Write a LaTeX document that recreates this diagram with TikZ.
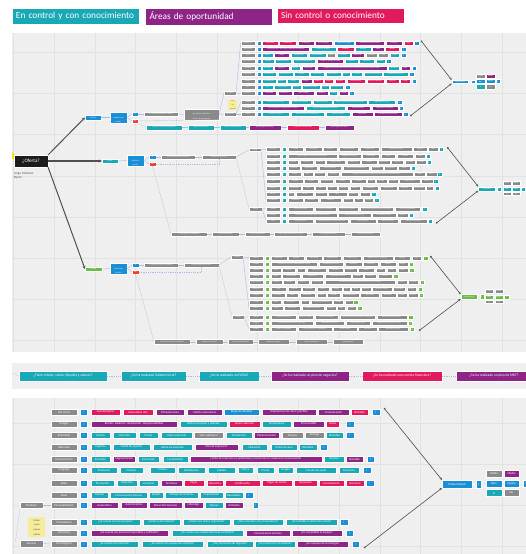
\documentclass[tikz,border=0pt]{standalone}
\usepackage{fontspec}
\usepackage{graphicx}
\setmainfont{Carlito}
\usetikzlibrary{arrows.meta}
\definecolor{tl}{HTML}{19A8B6}
\definecolor{pu}{HTML}{8E2586}
\definecolor{pk}{HTML}{E1195E}
\definecolor{bl}{HTML}{1B8FD6}
\definecolor{gr}{HTML}{8A8A8A}
\definecolor{gn}{HTML}{6CBD45}
\definecolor{rd}{HTML}{E8452C}
\definecolor{blk}{HTML}{1C1C1C}
\definecolor{panel}{HTML}{EFEFEF}
\definecolor{gridc}{HTML}{E2E2E2}
\definecolor{lav}{HTML}{B4B8E4}
\definecolor{dk}{HTML}{505050}
\definecolor{yl}{HTML}{F5EC9C}
\newcounter{nn}
\newsavebox\tbox
\newdimen\tdim
\newcommand\fitt[2]{\sbox\tbox{#2}\tdim=#1pt\advance\tdim by -0.5pt\ifdim\wd\tbox>\tdim\resizebox{\tdim}{!}{\usebox\tbox}\else\usebox\tbox\fi}
\newcommand\ii{{\fontsize{3.3}{3.3}\selectfont i}}
\def\bxfont{\fontsize{1.8}{2.1}\selectfont}
\def\rowh{4}
\tikzset{
  bx/.style={inner sep=0pt,outer sep=0pt,draw=white,line width=0.25pt,text=white,font=\bxfont,anchor=north west},
  lk/.style={draw=lav,line width=0.4pt},
  lkd/.style={draw=lav,line width=0.45pt,dash pattern=on 1pt off 0.8pt},
  hubl/.style={draw=dk,line width=0.6pt,{Circle[length=1.8pt]}-{Stealth[length=2.6pt,width=2.2pt]}},
  mainl/.style={draw=dk,line width=1pt,-{Stealth[length=3.2pt,width=3pt]}},
  legbox/.style={anchor=north west,inner sep=4pt,outer sep=0pt,draw=white,line width=0.5pt,text=white,font=\fontsize{9.3}{10}\selectfont,minimum height=15pt,text width=119pt,align=left},
}
\newcommand\Bx[6]{\stepcounter{nn}\pgfmathsetmacro\bw{#3-#1}\node[bx,fill=#5,minimum width={(#3-#1)*1pt},minimum height={(#4-#2)*1pt}] (n\arabic{nn}) at (#1,#2) {\fitt{\bw}{#6}};}
\newcommand\NBx[7]{\pgfmathsetmacro\bw{#3-#1}\node[bx,fill=#5,minimum width={(#3-#1)*1pt},minimum height={(#4-#2)*1pt}] (#7) at (#1,#2) {\fitt{\bw}{#6}};}
\newcommand\Zrow[4]{\foreach \a/\b/\c/\tx in {#4}{%
  \pgfmathsetmacro\xa{#1+\a/3}\pgfmathsetmacro\xb{#1+\b/3}%
  \pgfmathsetmacro\ya{#2+#3/3-\rowh/2}\pgfmathsetmacro\yb{\ya+\rowh}%
  \Bx{\xa}{\ya}{\xb}{\yb}{\c}{\tx}}}
\newcommand\Prow[2]{\foreach \a/\b/\c/\tx in {#2}{%
  \pgfmathsetmacro\yb{#1+6}\Bx{\a}{#1}{\b}{\yb}{\c}{\tx}}}
\begin{document}
\begin{tikzpicture}[x=1pt,y=-1pt]
\useasboundingbox (0,0) rectangle (526,554);
\fill[white] (0,0) rectangle (526,554);
% panels
\fill[panel] (12,33) rectangle (526,352);
\fill[panel] (12,363) rectangle (526,389);
\fill[panel] (12,398) rectangle (526,554);
\begin{scope}
\clip (12,33) rectangle (526,352) (12,398) rectangle (526,554);
\foreach \gx in {0,...,12} {\draw[gridc,line width=0.5pt] ({13.5+40.7*\gx},33) -- ({13.5+40.7*\gx},554);}
\foreach \gy in {1,...,13} {\draw[gridc,line width=0.5pt] (12,{11+41.2*\gy}) -- (526,{11+41.2*\gy});}
\end{scope}
% legend
\node[legbox,fill=tl] (lg1) at (12,8) {En control y con conocimiento};
\node[legbox,fill=pu] (lg2) at (145.5,8) {Áreas de oportunidad};
\node[legbox,fill=pk] (lg3) at (277,8) {Sin control o conocimiento};
% root
\fill[yellow!80!orange] (12,153) rectangle (13.5,158.5);
\NBx{14}{155}{48}{167}{blk}{\fontsize{5}{6}\selectfont ¿Oferta?}{of}
\node[anchor=north west,inner sep=0pt,text=dk,align=left,font=\fontsize{3.2}{4}\selectfont] (autor) at (14,172) {Jorge Martínez\\Byrne};
% ---------- top branch
\NBx{85}{115}{101}{120}{bl}{Producto}{prod}
\NBx{110}{112}{127}{123}{bl}{\shortstack{¿Conoces el\\producto que\\vendes?}}{q1}
\NBx{132}{112}{138}{116}{bl}{Sí}{si1}
\NBx{132}{119}{138}{123}{rd}{No}{no1}
\NBx{144}{112}{178}{116}{gr}{Sí, conozco mi producto a detalle}{g11}
\NBx{184}{109}{219}{118}{gr}{\shortstack{Conozco plenamente mi producto\\sus ventajas y beneficios\\frente a la competencia}}{g12}
\NBx{224}{91}{236}{95}{gr}{Atributos}{gl1}
\NBx{224}{112}{236}{116}{gr}{Beneficios}{gl2}
\node[anchor=north west,fill=yl,inner sep=0pt,minimum width=9pt,minimum height=10pt,text=dk,font=\fontsize{1.6}{1.9}\selectfont] (st1) at (228,100) {\shortstack{Nota\\del\\producto}};
\NBx{146}{125}{182}{130}{tl}{¿Cuál es el valor de tu producto?}{t1}
\NBx{188}{125}{214}{130}{tl}{¿Quién es tu cliente?}{t2}
\NBx{220}{125}{246}{130}{tl}{¿Qué necesidad cubre?}{t3}
\NBx{249}{125}{281}{130}{pu}{¿Cómo llega a tu cliente?}{t4}
\NBx{287}{125}{319}{130}{pk}{¿Cuál es su ciclo de vida?}{t5}
\NBx{325}{125}{354}{130}{pu}{¿Tiene registro de marca?}{t6}
\Zrow{230}{30}{38}{32/75/gr/Aceptación,80/92/bl/\ii,97/143/pk/Aceptación,148/198/pk/Calidad baja,203/252/pu/Durabilidad,256/307/pu/Diseño propio,313/373/bl/Material reciclado,376/463/pu/Variedad de presentaciones,467/517/pu/Empaque,521/548/pk/Costo,552/567/bl/\ii}
\Zrow{230}{30}{57}{32/75/gr/Necesidad,80/92/bl/\ii,97/238/pu/Necesidad real o necesidad creada por el mercado,242/317/tl/Beneficio tangible,322/372/pk/Sustituto,376/422/tl/Utilidad,426/462/pu/Moda,466/508/pk/Riesgo,512/527/bl/\ii}
\Zrow{230}{30}{75}{32/75/gr/Precio,80/92/bl/\ii,97/128/tl/Precio,133/177/pu/Margen,182/231/tl/Competencia,236/288/tl/Infraestructura,292/315/gr/Zona,320/360/tl/Ubicación,363/402/pu/Temporada,408/440/gr/Volumen,445/475/gr/Stock,480/508/tl/Oferta,512/527/bl/\ii}
\Zrow{230}{30}{94}{32/75/gr/Distribución,80/92/bl/\ii,97/132/tl/Logística,135/183/tl/Almacenamiento,188/255/tl/Canales de distribución,260/340/pu/Tiempo de entrega al cliente,345/383/tl/Transporte,388/433/tl/Inventario,437/465/tl/Pedidos,468/482/bl/\ii}
\Zrow{230}{30}{113}{32/75/gr/Mercado,80/92/bl/\ii,97/128/tl/Mercado,133/177/pu/Segmento,182/210/tl/Nicho,215/255/pu/Tendencias,260/470/pu/Estudio de mercado para conocer gustos y preferencias del consumidor final,475/508/tl/Demanda,512/540/pu/Perfil,545/558/bl/\ii}
\Zrow{230}{30}{132}{32/75/gr/Producción,80/92/bl/\ii,97/138/tl/Proveedores,143/188/tl/Materia prima,193/237/tl/Insumos,241/283/tl/Maquinaria,287/332/tl/Herramientas,336/360/tl/Equipo,364/397/tl/Personal,401/455/tl/Procesos de calidad,460/533/tl/Control de producción,538/552/bl/\ii}
\Zrow{230}{30}{153}{32/75/gr/Imagen,80/92/bl/\ii,97/138/tl/Presentación,140/168/tl/Etiqueta,172/207/tl/Envase,212/245/pu/Imagen,249/280/pk/Registro,283/310/pk/Patente,314/346/pk/Normas,350/405/pk/Certificaciones,410/462/pk/Permisos sanitarios,467/507/pk/Licencias,511/540/pk/Código,545/558/bl/\ii}
\Zrow{230}{30}{171}{32/75/gr/Uso,80/92/bl/\ii,97/128/tl/Uso,133/183/tl/Instrucciones,187/212/tl/Manual,216/270/tl/Atención al cliente,274/296/tl/Soporte,299/340/tl/Devoluciones,345/360/bl/\ii}
\Zrow{230}{30}{190}{32/75/gr/Promoción,80/92/bl/\ii,97/138/pu/Publicidad,143/185/pu/Promoción,190/253/pu/Redes sociales,258/293/pu/Campañas,297/322/tl/Ventas,327/355/pu/Eventos,358/372/bl/\ii}
\Zrow{230}{30}{216}{32/75/gr/Garantía,80/92/bl/\ii,97/177/tl/Garantía de satisfacción,182/243/tl/Cambio de producto,248/305/tl/Reembolso total,310/410/tl/Póliza de garantía por tiempo limitado,415/495/tl/Reparación sin costo,500/515/bl/\ii}
\Zrow{230}{30}{234}{32/75/gr/Posventa,80/92/bl/\ii,97/222/pu/Servicio posventa y seguimiento al cliente,227/345/tl/Atención personalizada en tienda,350/420/pu/Asesoría técnica,425/503/pu/Capacitación al usuario,508/518/bl/\ii}
\Zrow{230}{30}{252}{32/75/gr/Venta,80/92/bl/\ii,97/177/tl/Entrega a domicilio,182/283/tl/Venta en línea y en tienda física,288/360/tl/Puntos de venta,365/428/pu/Mayoristas,432/515/pu/Distribuidores autorizados,520/533/bl/\ii}
\coordinate (tr1) at (240.7,42.7);
\coordinate (tr9) at (240.7,93.3);
\coordinate (tr10) at (240.7,102);
\coordinate (tr12) at (240.7,114);
\NBx{451.7}{80}{468.3}{83.5}{bl}{Producto ideal}{hub1}
\NBx{471}{80}{475}{83.5}{bl}{\ii}{hub1i}
\NBx{476}{74}{485.3}{78.3}{gr}{Medio}{h1a}
\NBx{486}{74}{495}{78.3}{pu}{Medio}{h1b}
\NBx{476}{79.3}{485.3}{83.5}{bl}{Bien}{h1c}
\NBx{486}{79.3}{495}{83.5}{bl}{Alguno}{h1d}
\NBx{496}{79.3}{500}{83.5}{bl}{\ii}{h1i}
\NBx{476}{84.5}{485.3}{88.7}{tl}{Sí}{h1e}
\NBx{486}{84.5}{495}{88.7}{gr}{No}{h1f}
\coordinate (ta) at (421,40.7);
\coordinate (tb) at (410.3,116);
\draw[hubl] (ta) -- (hub1.north west);
\draw[hubl] (tb) -- (hub1.south west);
\draw[lk] (prod.east) -- (q1.west);
\draw[lk] (q1.east) -- (si1.west);
\draw[lk] (q1.east) -- (no1.west);
\draw[lk] (si1.east) -- (g11.west);
\draw[lk] (g11.east) -- (g12.west);
\draw[lk] (g12.east) -- (gl1.west);
\draw[lk] (g12.east) -- (gl2.west);
\draw[lk] (gl1.east) -- (tr1);
\draw[lk] (gl1.east) -- (tr9);
\draw[lk] (gl2.east) -- (tr10);
\draw[lk] (gl2.east) -- (tr12);
\draw[lkd] (no1.east) -- (g12.south east);
\draw[lkd] (no1.south east) -- (t1.west);
\draw[lk] (t1) -- (t2); \draw[lk] (t2) -- (t3); \draw[lk] (t3) -- (t4); \draw[lk] (t4) -- (t5); \draw[lk] (t5) -- (t6);
% ---------- middle branch
\NBx{102}{159}{118}{163}{tl}{Precio}{prc}
\NBx{127}{155}{144}{166}{bl}{\shortstack{¿Cómo\\defines tu\\precio?}}{q2}
\NBx{149}{155}{156}{159}{bl}{Sí}{si2}
\NBx{149}{162}{156}{166}{rd}{No}{no2}
\NBx{161}{155}{195}{159}{gr}{Lo calculo en base a mis costos}{g21}
\NBx{202}{155}{236}{159}{gr}{Estructura del precio}{g22}
\NBx{249}{148}{261}{151.5}{gr}{Costos}{gm1}
\NBx{249}{207}{262}{211}{gr}{Formas}{gm2}
\NBx{171}{232}{207}{236}{gr}{Lo fijo según la competencia}{m1}
\NBx{212}{232}{239}{236}{gr}{Lo fijo por intuición}{m2}
\NBx{245}{232}{270}{236}{gr}{Lo fijo por costumbre}{m3}
\NBx{274}{232}{307}{236}{gr}{Lo fijo según lo que pide el cliente}{m4}
\NBx{312}{232}{345}{236}{gr}{Lo fijo según el mercado}{m5}
\NBx{351}{232}{380}{236}{gr}{No tengo un método}{m6}
\Zrow{230}{130}{58}{108/150/gr/Costo fijo,155/168/tl/\ii,175/220/gr/Renta,225/275/gr/Luz y agua,278/322/gr/Internet,327/385/gr/Mantenimiento,390/447/gr/Sueldos base,452/545/gr/Prestaciones de ley,550/590/gr/Seguros,595/625/gr/Otros,628/640/tl/\ii}
\Zrow{230}{130}{77}{108/150/gr/Costo variable,155/168/tl/\ii,175/320/gr/Materia prima e insumos de producción,325/392/gr/Empaque y embalaje,397/448/gr/Comisiones,452/495/gr/Fletes,500/550/gr/Mermas,555/585/gr/Otros,588/600/tl/\ii}
\Zrow{230}{130}{96}{108/150/gr/Margen,155/168/tl/\ii,175/205/gr/Mínimo,210/250/gr/Promedio,255/285/gr/Máximo,288/345/gr/Margen bruto,350/390/gr/Margen neto,393/440/gr/Utilidad,445/480/gr/Descuento,484/520/gr/Mayoreo,524/555/gr/Menudeo,559/588/gr/Oferta,591/603/tl/\ii}
\Zrow{230}{130}{114}{108/150/gr/Mercado,155/168/tl/\ii,175/210/gr/Mercado,214/262/gr/Competencia,268/333/gr/Precio promedio,338/418/gr/Precio de la competencia,422/458/gr/Demanda,462/500/gr/Temporada,505/540/gr/Zona,543/555/tl/\ii}
\Zrow{230}{130}{133}{108/150/gr/Cliente,155/168/tl/\ii,175/213/gr/Cliente,218/248/gr/Valor,251/285/gr/Percepción,290/328/gr/Capacidad,332/548/gr/Disposición del cliente a pagar por el producto o servicio ofrecido,552/585/gr/Calidad,588/620/gr/Marca,622/635/tl/\ii}
\Zrow{230}{130}{153}{108/150/gr/Cobro,155/168/tl/\ii,175/218/gr/Efectivo,222/265/gr/Tarjeta,270/310/gr/Transferencia,315/360/gr/Crédito,364/408/gr/Contado,412/435/gr/Vales,439/470/gr/Cheque,474/503/gr/Depósito,507/570/gr/Pago en línea,574/608/gr/Plazos,610/625/tl/\ii}
\Zrow{230}{130}{173}{108/150/gr/Impuestos,155/168/tl/\ii,175/212/gr/Impuestos,215/252/gr/IVA,255/287/gr/ISR,291/320/gr/IEPS,325/355/gr/Facturas,360/390/gr/Recibos,395/445/gr/Contabilidad,450/500/gr/Declaraciones,504/545/gr/Auditoría,550/585/gr/Retenciones,588/610/gr/SAT,614/627/tl/\ii}
\Zrow{230}{130}{191}{108/150/gr/Periodo,155/168/tl/\ii,175/193/gr/Día,198/250/gr/Semana,255/290/gr/Quincena,293/350/gr/Mes,354/385/gr/Bimestre,390/420/gr/Año,423/437/tl/\ii}
\Zrow{230}{130}{210}{108/150/gr/Promoción,155/168/tl/\ii,175/218/gr/Promoción,223/265/gr/Descuento,270/333/gr/Paquetes,338/368/gr/Cupones,372/398/gr/2x1,402/430/gr/Regalo,433/447/tl/\ii}
\Zrow{230}{130}{236}{108/150/gr/Unidad,155/168/tl/\ii,175/250/gr/Precio por unidad,255/318/gr/Precio por paquete,324/384/gr/Precio por volumen,389/490/gr/Precio especial para clientes frecuentes,495/570/gr/Precio de temporada,575/590/tl/\ii}
\Zrow{230}{130}{254}{108/150/gr/Proyecto,155/168/tl/\ii,175/320/gr/Cotización personalizada según requerimientos,325/422/gr/Precio por hora de servicio,427/497/gr/Precio por proyecto,502/535/gr/Anticipo,538/550/tl/\ii}
\Zrow{230}{130}{272}{108/150/gr/Lista,155/168/tl/\ii,175/250/gr/Lista de precios,255/355/gr/Precio publicado en tienda y en línea,360/437/gr/Precio sugerido,442/505/gr/Precio de venta,510/590/gr/Precio con impuestos,593/607/tl/\ii}
\coordinate (mr1) at (266,149.3);
\coordinate (mr9) at (266,200);
\coordinate (mr10) at (266,208.7);
\coordinate (mr12) at (266,220.7);
\NBx{478.3}{186.7}{495}{190.7}{tl}{Precio ideal}{hub2}
\NBx{497}{186.7}{501}{190.7}{tl}{\ii}{hub2i}
\NBx{503}{181}{511}{185}{gr}{Medio}{h2a}
\NBx{512}{181}{520}{185}{gr}{Medio}{h2b}
\NBx{503}{186.7}{511}{190.7}{tl}{Bien}{h2c}
\NBx{512}{186.7}{520}{190.7}{tl}{Alguno}{h2d}
\NBx{521}{186.7}{525}{190.7}{tl}{\ii}{h2i}
\NBx{503}{191.7}{511}{195.3}{gr}{Sí}{h2e}
\NBx{512}{191.7}{520}{195.3}{gr}{No}{h2f}
\coordinate (ma) at (447.3,147.3);
\coordinate (mb) at (436,223.3);
\draw[hubl] (ma) -- (hub2.north west);
\draw[hubl] (mb) -- (hub2.south west);
\draw[lk] (prc.east) -- (q2.west);
\draw[lk] (q2.east) -- (si2.west);
\draw[lk] (q2.east) -- (no2.west);
\draw[lk] (si2.east) -- (g21.west);
\draw[lk] (g21.east) -- (g22.west);
\draw[lk] (g22.east) -- (gm1.west);
\draw[lkd] (g22.east) -- (gm2.west);
\draw[lk] (gm1.east) -- (mr1);
\draw[lk] (gm1.east) -- (mr9);
\draw[lk] (gm2.east) -- (mr10);
\draw[lk] (gm2.east) -- (mr12);
\draw[lkd] (no2.east) -| (g22.south);
\draw[lkd] (no2.south) -- (m1.west);
\draw[lk] (m1) -- (m2); \draw[lk] (m2) -- (m3); \draw[lk] (m3) -- (m4); \draw[lk] (m4) -- (m5); \draw[lk] (m5) -- (m6);
% ---------- bottom branch
\NBx{85}{267}{102}{271}{gn}{Servicio}{srv}
\NBx{110}{263}{127}{274}{bl}{\shortstack{¿Conoces el\\servicio que\\ofreces?}}{q3}
\NBx{132}{263}{139}{267}{bl}{Sí}{si3}
\NBx{132}{270}{139}{274}{rd}{No}{no3}
\NBx{144}{263}{178}{267}{gr}{Sí, conozco mi servicio a detalle}{g31}
\NBx{184}{263}{219}{267}{gr}{Características del servicio}{g32}
\NBx{231}{255}{243}{259}{gr}{Atributos}{gb1}
\NBx{232}{315}{244}{319}{gr}{Entrega}{gb2}
\NBx{154}{339.5}{190}{344}{gr}{¿Qué servicio ofreces realmente?}{b1}
\NBx{196}{339.5}{223}{344}{gr}{¿Quién es tu cliente?}{b2}
\NBx{228}{339.5}{253}{344}{gr}{¿Qué necesidad cubre?}{b3}
\NBx{258}{339.5}{289}{344}{gr}{¿Cómo lo entregas?}{b4}
\NBx{296}{339.5}{327}{344}{gr}{¿Qué te diferencia?}{b5}
\NBx{333}{339.5}{363}{344}{gr}{¿Cuánto cuesta?}{b6}
\Zrow{230}{220}{113}{57/100/gr/Atención,105/117/gn/\ii,122/170/gr/Amabilidad,175/222/gr/Rapidez,228/276/gr/Puntualidad,280/333/gr/Disponibilidad,338/393/gr/Comunicación,398/488/gr/Seguimiento de solicitudes,493/540/gr/Empatía,545/573/gr/Trato,580/593/gn/\ii}
\Zrow{230}{220}{131}{57/100/gr/Calidad,105/117/gn/\ii,122/262/gr/Calidad del servicio y satisfacción del cliente,267/340/gr/Estándares de servicio,346/395/gr/Evaluación,400/445/gr/Encuestas,450/498/gr/Quejas,503/533/gr/Mejora,537/550/gn/\ii}
\Zrow{230}{220}{150}{57/100/gr/Proceso,105/117/gn/\ii,122/153/gr/Inicio,157/195/gr/Registro,200/225/gr/Cita,230/288/gr/Diagnóstico,293/338/gr/Propuesta,342/380/gr/Ejecución,385/433/gr/Revisión,438/465/gr/Entrega,470/498/gr/Cierre,503/533/gr/Cobro,538/552/gn/\ii}
\Zrow{230}{220}{169}{57/100/gr/Personal,105/117/gn/\ii,122/152/gr/Perfil,157/210/gr/Capacitación,215/280/gr/Experiencia,285/362/gr/Habilidades técnicas,367/398/gr/Actitud,403/438/gr/Uniforme,443/485/gr/Horario,490/503/gn/\ii}
\Zrow{230}{220}{187}{57/100/gr/Herramientas,105/117/gn/\ii,122/157/gr/Equipo,160/195/gr/Software,200/237/gr/Vehículo,242/280/gr/Materiales,285/495/gr/Instalaciones adecuadas para brindar el servicio al cliente,500/530/gr/Insumos,535/565/gr/Licencias,570/583/gn/\ii}
\Zrow{230}{220}{207}{57/100/gr/Cobertura,105/117/gn/\ii,122/168/gr/Local,173/212/gr/Colonia,217/255/gr/Municipio,260/298/gr/Estado,303/336/gr/Región,340/360/gr/País,364/390/gr/Online,394/422/gr/Domicilio,426/485/gr/Atención remota,490/525/gr/Sucursales,530/558/gr/Horario,563/575/gn/\ii}
\Zrow{230}{220}{226}{57/100/gr/Garantía,105/117/gn/\ii,122/165/gr/Contrato,169/205/gr/Póliza,210/255/gr/Reembolso,260/288/gr/Cambio,292/330/gr/Soporte,335/387/gr/Mantenimiento,391/448/gr/Seguimiento,452/497/gr/Revisiones,501/530/gr/Visitas,534/563/gr/Reporte,567/580/gn/\ii}
\Zrow{230}{220}{245}{57/100/gr/Tiempo,105/117/gn/\ii,122/153/gr/Horas,158/208/gr/Días hábiles,212/238/gr/Citas,243/305/gr/Tiempo de respuesta,310/340/gr/Entrega,345/368/gr/Plazo,370/385/gn/\ii}
\Zrow{230}{220}{265}{57/100/gr/Precio,105/117/gn/\ii,122/158/gr/Tarifa,162/210/gr/Cotización,215/282/gr/Paquetes de servicio,287/318/gr/Anticipo,322/345/gr/Pago,350/378/gr/Factura,382/396/gn/\ii}
\Zrow{230}{220}{290}{57/100/gr/Clientes,105/117/gn/\ii,122/198/gr/Clientes frecuentes,203/250/gr/Nuevos clientes,255/325/gr/Clientes potenciales,330/435/gr/Recomendaciones de clientes satisfechos,440/530/gr/Base de datos de clientes,535/548/gn/\ii}
\Zrow{230}{220}{309}{57/100/gr/Imagen,105/117/gn/\ii,122/250/gr/Presentación del personal y del lugar,255/342/gr/Identidad de la marca,347/420/gr/Página web y redes,425/530/gr/Reputación y opiniones en línea,535/547/gn/\ii}
\Zrow{230}{220}{327}{57/100/gr/Canales,105/117/gn/\ii,122/198/gr/Teléfono y WhatsApp,203/305/gr/Correo electrónico y formularios,310/380/gr/Redes sociales,385/440/gr/Sitio web,445/535/gr/Atención presencial,540/553/gn/\ii}
\coordinate (br1) at (249,257.7);
\coordinate (br9) at (249,308.3);
\coordinate (br10) at (249,316.7);
\coordinate (br12) at (249,329);
\NBx{460.7}{294.3}{477.3}{299}{gn}{Servicio ideal}{hub3}
\NBx{480}{294.3}{484}{299}{gn}{\ii}{hub3i}
\NBx{485}{289}{493.3}{292.7}{gr}{Medio}{h3a}
\NBx{494.7}{289}{502.7}{292.7}{gr}{Medio}{h3b}
\NBx{485}{294.7}{493.3}{298.7}{gn}{Bien}{h3c}
\NBx{494.7}{294.7}{502.7}{298.7}{gn}{Alguno}{h3d}
\NBx{504}{294.7}{508.7}{298.7}{gn}{\ii}{h3i}
\NBx{485}{300}{493.3}{303.3}{gr}{Sí}{h3e}
\NBx{494.7}{300}{502.7}{303.3}{gr}{No}{h3f}
\coordinate (ba) at (430.3,256);
\coordinate (bb) at (419,330.7);
\draw[hubl] (ba) -- (hub3.north west);
\draw[hubl] (bb) -- (hub3.south west);
\draw[lk] (srv.east) -- (q3.west);
\draw[lk] (q3.east) -- (si3.west);
\draw[lk] (q3.east) -- (no3.west);
\draw[lk] (si3.east) -- (g31.west);
\draw[lk] (g31.east) -- (g32.west);
\draw[lk] (g32.east) -- (gb1.west);
\draw[lkd] (g32.east) -- (gb2.west);
\draw[lk] (gb1.east) -- (br1);
\draw[lk] (gb1.east) -- (br9);
\draw[lk] (gb2.east) -- (br10);
\draw[lk] (gb2.east) -- (br12);
\draw[lkd] (no3.east) -| (g32.south);
\draw[lkd] (no3.south) -- (b1.west);
\draw[lk] (b1) -- (b2); \draw[lk] (b2) -- (b3); \draw[lk] (b3) -- (b4); \draw[lk] (b4) -- (b5); \draw[lk] (b5) -- (b6);
% main lines
\draw[mainl] (of.north east) -- (prod.west);
\draw[mainl,line width=1.4pt] (of.east) -- (prc.west);
\draw[mainl] (of.south east) -- (srv.west);
% ---------- panel 2
\def\bxfont{\fontsize{3.6}{4.2}\selectfont}
\NBx{19}{371}{107}{381}{tl}{¿Tiene misión, visión, filosofía y valores?}{p1}
\NBx{121}{371}{186}{381}{tl}{¿Se ha realizado Golden Circle?}{p2}
\NBx{199}{371}{259}{381}{tl}{¿Se ha realizado un FODA?}{p3}
\NBx{271}{371}{349}{381}{pu}{¿Se ha realizado un plan de negocios?}{p4}
\NBx{362}{371}{442}{381}{pk}{¿Se ha realizado una corrida financiera?}{p5}
\NBx{456}{371}{532}{381}{pu}{¿Se ha realizado un plan de MKT?}{p6}
\coordinate (p0) at (13,373);
\draw[lkd] (p0) -- (p1.west);
\draw[lkd] (p1) -- (p2); \draw[lkd] (p2) -- (p3); \draw[lkd] (p3) -- (p4); \draw[lkd] (p4) -- (p5); \draw[lkd] (p5) -- (p6);
% ---------- panel 3
\def\bxfont{\fontsize{3}{3.5}\selectfont}
\Prow{409}{51/77/gr/Rol social,80/87/bl/\ii,91/120/pk/Autodisciplina,123/153/pk/Autoestima alta,156/184/pu/Infraestructura,187/222/pu/Mezcla estructural,224/259/bl/Mapa de afinidad,262/316/pu/Arquitectura de roles y perfiles,318/349/pu/Comunicación,351/368/pk/Rentable,372/380/bl/\ii}
\Prow{421}{51/77/gr/Imagen,80/87/bl/\ii,91/177/pu/Recibo · Relación · Realización · Responsabilidad,180/227/tl/Red en conjunto y alianzas,229/260/pk/Mayor atención,262/291/tl/Temperatura,293/324/pu/Proceso B2B,326/339/pk/Venta,346/354/bl/\ii}
\Prow{432}{51/77/gr/Entendido,80/87/bl/\ii,91/110/tl/Misión,113/136/tl/Atención,139/158/tl/Precio,161/192/tl/Valor comercial,194/223/gr/Valor adicional,226/252/tl/Producción,254/279/pu/Mantenimiento,282/303/gr/Alcance,305/324/gr/Entrega,326/343/tl/Rentable,346/354/bl/\ii}
\Prow{444}{51/77/gr/Ubicación,80/87/bl/\ii,91/110/tl/Logística,113/150/tl/Límite de espacio,153/192/tl/Límite de inversión,195/238/pu/Plan de expansión,242/267/tl/Ubicación,271/297/tl/Límite de área,299/317/tl/Rentable,320/327/bl/\ii}
\Prow{456}{51/77/gr/Comunicación,80/87/bl/\ii,91/110/tl/Inversión,113/135/pu/Segmentación,138/159/tl/Innovación,163/188/tl/Lanzamiento,190/322/pu/Límite de inversión en publicidad y promoción en medios de comunicación,324/344/tl/Impulso,346/363/pu/Rentable,367/374/bl/\ii}
\Prow{467}{51/77/gr/Lenguaje,80/87/bl/\ii,91/117/tl/Productos,120/143/tl/Clientes,150/175/tl/Cartera,178/205/tl/Distribución,208/235/tl/Calidad,238/253/tl/Marca,257/274/tl/Precio,278/293/tl/Imagen,296/336/tl/Canales de venta,339/359/tl/Presencia,363/371/bl/\ii}
\Prow{480}{51/77/gr/Edad,80/87/bl/\ii,91/114/tl/Promoción,117/137/tl/Registros,139/158/tl/Licencias,161/182/pu/Permisos,184/204/pk/Pagos,207/223/pk/Derechos,225/260/pk/Certificación,262/292/pk/Pagos de ventas,294/317/pk/Impuestos,319/344/pk/Escalamiento,346/364/pk/Ganancia,366/374/bl/\ii}
\Prow{492}{51/77/gr/Nivel,80/87/bl/\ii,91/108/tl/Tiempo,110/147/tl/Comunicación interna,149/163/tl/Equipo,165/198/tl/Manejo de recursos,200/223/tl/Capacitación,225/243/tl/Resultados,245/253/bl/\ii}
\Prow{502}{51/77/gr/Personalización,80/87/bl/\ii,91/118/pu/Autoestima,121/147/pu/Autodisciplina,149/182/pu/Desarrollo humano,184/203/pu/Liderazgo,205/223/tl/Valores,225/243/pu/Actitudes,253/258/bl/\ii}
\Prow{519}{51/77/gr/Procedencia,80/87/bl/\ii,91/140/tl/¿Se cuenta con local propio?,143/180/tl/¿Existe la formalidad?,183/230/tl/¿Existe una marca registrada?,233/283/tl/¿Hay contratos con proveedores?,286/337/tl/¿Es rentable la ubicación actual?,340/348/bl/\ii}
\Prow{530}{51/77/gr/Humanos,80/87/bl/\ii,91/168/pu/¿Se cuenta con personal capacitado y calificado?,172/243/tl/¿Se cuenta con colaboradores de confianza?,246/290/pu/Comunicación efectiva,292/342/pu/¿Es compatible el equipo?,346/353/bl/\ii}
\Prow{541}{51/77/gr/Tecnológicos,80/87/bl/\ii,91/138/tl/¿Se cuenta con internet?,142/203/tl/¿Se cuenta con equipo de cómputo?,207/253/tl/¿Hay herramientas digitales?,255/295/tl/¿Se cuenta con un sistema?,297/348/pu/¿Se requiere de tecnología?,352/359/bl/\ii}
\NBx{20}{502}{43}{508}{gr}{Producto}{pp}
\NBx{20}{540}{43}{547}{gr}{Servicio}{ps}
\node[anchor=north west,fill=yl,inner sep=0pt,minimum width=17pt,minimum height=20pt,text=dk,font=\fontsize{2.4}{2.8}\selectfont] (st2) at (28,517) {\shortstack{Misión\\visión\\valores\\cultura}};
\coordinate (pr9) at (51,505);
\coordinate (pr12) at (51,544);
\coordinate (pl) at (15.5,541);
\draw[lk] (pp.east) -- (pr9);
\draw[lk] (ps.east) -- (pr12);
\draw[lkd] (pl) -- (pp.south west);
\NBx{442}{480}{472}{488}{bl}{Productividad}{hub4}
\NBx{476}{480}{481}{488}{bl}{\ii}{hub4i}
\NBx{486}{470}{502}{477}{gr}{Medio}{h4a}
\NBx{504}{470}{519}{477}{pu}{Medio}{h4b}
\NBx{486}{480}{502}{487}{bl}{Bien}{h4c}
\NBx{504}{480}{519}{487}{bl}{Alguno}{h4d}
\NBx{523}{480}{529}{487}{bl}{\ii}{h4i}
\NBx{486}{489.5}{502}{496.5}{tl}{Sí}{h4e}
\NBx{504}{489.5}{519}{496.5}{gr}{No}{h4f}
\coordinate (qa) at (384,408);
\coordinate (qb) at (364,548);
\draw[hubl] (qa) -- (hub4.north west);
\draw[hubl] (qb) -- (hub4.south west);
\end{tikzpicture}
\end{document}
